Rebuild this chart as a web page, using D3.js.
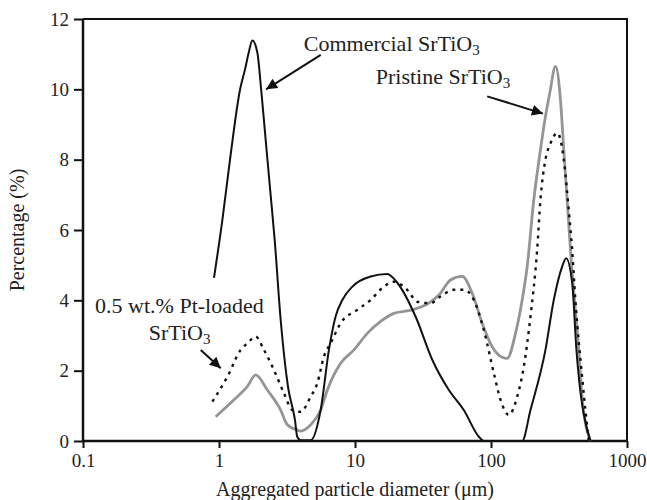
<!DOCTYPE html>
<html>
<head>
<meta charset="utf-8">
<script src="https://cdn.jsdelivr.net/npm/d3@7"></script>
<style>
  body { margin: 0; background: #fff; }
  svg { display: block; font-family: "Liberation Serif", "Times New Roman", serif; }
</style>
</head>
<body>
<div id="chart"></div>
<script>
// particle size distributions, [diameter (um), percentage]
const commercial = [
  [0.919, 4.64], [1.059, 6.29], [1.205, 8.0], [1.427, 9.99], [1.552, 10.56],
  [1.653, 11.04], [1.76, 11.39], [1.915, 11.04], [2.042, 9.99], [2.203, 8.57],
  [2.378, 7.14], [2.567, 5.72], [2.841, 3.44], [3.214, 1.55], [3.618, 0.60],
  [3.76, 0.12], [3.983, 0.02], [4.72, 0.02], [5.59, 0.88], [6.43, 2.59],
  [7.2, 3.54], [8.07, 4.01], [9.56, 4.39], [13.02, 4.68], [17.28, 4.75],
  [20.46, 4.50], [27.88, 3.54], [36.98, 2.31], [48.98, 1.45], [63.1, 0.88],
  [81.4, 0.12], [88.5, 0], [169.5, 0], [195.1, 0.88], [251.4, 2.59],
  [289.4, 4.01], [333.6, 4.96], [356.9, 5.20], [395.1, 4.50], [424.9, 2.59],
  [538.5, 0]
]

const pristine = [
  [0.946, 0.69], [1.289, 1.17], [1.617, 1.55], [1.861, 1.88], [2.268, 1.45],
  [2.841, 0.88], [3.18, 0.46], [3.767, 0.31], [3.983, 0.28], [4.72, 0.46],
  [5.59, 0.88], [6.26, 1.45], [7.84, 2.21], [9.82, 2.59], [12.31, 3.06],
  [15.42, 3.40], [19.31, 3.63], [26.36, 3.73], [34.9, 3.92], [41.4, 4.15],
  [50.4, 4.58], [61.4, 4.68], [72.8, 4.20], [86.1, 3.35], [102, 2.68],
  [120.9, 2.38], [131.5, 2.35], [151.4, 3.06], [169.5, 4.01], [184.5, 4.96],
  [206.4, 6.86], [231, 8.28], [251.4, 9.23], [270.4, 9.89], [297.9, 10.65],
  [324.2, 9.70], [342.8, 8.28], [363, 6.86], [383.9, 5.44], [441.6, 2.59],
  [470, 1.17], [538.5, 0]
]

const ptLoaded = [
  [0.894, 1.12], [1.153, 1.83], [1.443, 2.59], [1.617, 2.78], [1.861, 2.97],
  [2.141, 2.59], [2.536, 2.02], [3.003, 1.36], [3.462, 0.88], [3.983, 0.83],
  [4.72, 1.26], [5.28, 1.64], [5.91, 2.40], [6.62, 2.78], [7.84, 3.35],
  [10.4, 3.73], [13.02, 4.01], [16.3, 4.39], [19.31, 4.53], [24.2, 4.30],
  [28.7, 3.96], [36, 3.92], [42.5, 4.11], [53.3, 4.30], [63.1, 4.30],
  [74.8, 4.01], [88.5, 3.16], [104.9, 1.93], [117.5, 1.17], [135.2, 0.74],
  [155.8, 1.26], [174.2, 2.11], [195.1, 3.54], [218.5, 5.44], [231, 6.86],
  [251.4, 8.00], [274.4, 8.47], [306.6, 8.76], [324.2, 8.57], [342.8, 8.00],
  [373, 6.57], [395, 5.44], [417.3, 4.01], [470, 1.74], [523, 0]
]

const xTicks = [0.1, 1, 10, 100, 1000]
const yTicks = [0, 2, 4, 6, 8, 10, 12]

const MARGIN = { LEFT: 83, RIGHT: 20, TOP: 19, BOTTOM: 59 }
const WIDTH = 647 - MARGIN.LEFT - MARGIN.RIGHT
const HEIGHT = 500 - MARGIN.TOP - MARGIN.BOTTOM

const svg = d3.select("#chart").append("svg")
    .attr("width", 647)
    .attr("height", 500)

const g = svg.append("g")
    .attr("transform", `translate(${MARGIN.LEFT}, ${MARGIN.TOP})`)

// Scales
const x = d3.scaleLog()
    .domain([0.1, 1000])
    .range([0, WIDTH])

const y = d3.scaleLinear()
    .domain([0, 12])
    .range([HEIGHT, 0])

// frame (top and right)
g.append("path")
    .attr("d", `M0,0H${WIDTH}V${HEIGHT}`)
    .attr("fill", "none")
    .attr("stroke", "#111")
    .attr("stroke-width", 2)

// X Axis
const xAxisCall = d3.axisBottom(x)
    .tickValues(xTicks)
    .tickFormat(d => String(d))
    .tickSize(7)
    .tickPadding(6)
const xAxis = g.append("g")
    .attr("transform", `translate(0, ${HEIGHT})`)
    .call(xAxisCall)

// Y Axis
const yAxisCall = d3.axisLeft(y)
    .tickValues(yTicks)
    .tickSize(9)
    .tickPadding(5)
const yAxis = g.append("g")
    .call(yAxisCall)

for (const ax of [xAxis, yAxis]) {
  ax.select(".domain").attr("stroke", "#111").attr("stroke-width", 2.5)
  ax.selectAll(".tick line").attr("stroke", "#111").attr("stroke-width", 2)
  ax.selectAll(".tick text")
    .attr("fill", "#222")
    .attr("font-size", "19px")
    .attr("font-family", "Liberation Serif, serif")
}
yAxis.select(".domain").attr("d", `M0,${HEIGHT}V0`)
xAxis.select(".domain").attr("d", `M0,0H${WIDTH}`)

// Labels
g.append("text")
    .attr("x", WIDTH / 2)
    .attr("y", HEIGHT + 55)
    .attr("font-size", "20px")
    .attr("fill", "#222")
    .attr("text-anchor", "middle")
    .text("Aggregated particle diameter (\u03bcm)")

g.append("text")
    .attr("transform", "rotate(-90)")
    .attr("x", -HEIGHT / 2)
    .attr("y", -59)
    .attr("font-size", "20px")
    .attr("fill", "#222")
    .attr("text-anchor", "middle")
    .text("Percentage (%)")

// Lines
const line = d3.line()
    .x(d => x(d[0]))
    .y(d => y(d[1]))
    .curve(d3.curveMonotoneX)

g.append("path")
    .datum(pristine)
    .attr("d", line)
    .attr("fill", "none")
    .attr("stroke", "#959595")
    .attr("stroke-width", 2.8)

g.append("path")
    .datum(ptLoaded)
    .attr("d", line)
    .attr("fill", "none")
    .attr("stroke", "#111")
    .attr("stroke-width", 2.4)
    .attr("stroke-dasharray", "3,5")

g.append("path")
    .datum(commercial)
    .attr("d", line)
    .attr("fill", "none")
    .attr("stroke", "#111")
    .attr("stroke-width", 2)

// Annotations
svg.append("defs").append("marker")
    .attr("id", "arrow")
    .attr("viewBox", "0 0 10 10")
    .attr("refX", 10)
    .attr("refY", 5)
    .attr("markerWidth", 14)
    .attr("markerHeight", 11)
    .attr("markerUnits", "userSpaceOnUse")
    .attr("orient", "auto")
  .append("path")
    .attr("d", "M0,0L10,5L0,10Z")
    .attr("fill", "#111")

const arrows = [
  [[5.6, 10.98], [2.22, 10.0]],
  [[93.8, 9.8], [241, 9.31]],
  [[0.734, 2.59], [1.03, 2.07]]
]
arrows.forEach(a => {
  g.append("line")
      .attr("x1", x(a[0][0])).attr("y1", y(a[0][1]))
      .attr("x2", x(a[1][0])).attr("y2", y(a[1][1]))
      .attr("stroke", "#111")
      .attr("stroke-width", 2)
      .attr("marker-end", "url(#arrow)")
})

function chemLabel(xv, yv, prefix, anchor) {
  const t = g.append("text")
      .attr("x", x(xv))
      .attr("y", y(yv))
      .attr("font-size", "22px")
      .attr("fill", "#222")
      .attr("text-anchor", anchor)
  t.append("tspan").text(prefix + "SrTiO")
  t.append("tspan").attr("font-size", "15px").attr("dy", 4).text("3")
  return t
}

chemLabel(4.2, 11.1, "Commercial ", "start")
chemLabel(14.2, 10.15, "Pristine ", "start")

g.append("text")
    .attr("x", x(0.1227))
    .attr("y", y(3.64))
    .attr("font-size", "22px")
    .attr("fill", "#222")
    .text("0.5 wt.% Pt-loaded")
chemLabel(0.513, 2.87, "", "middle")
</script>
</body>
</html>
